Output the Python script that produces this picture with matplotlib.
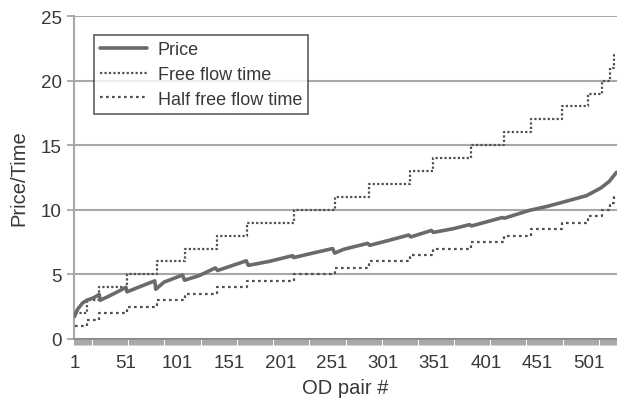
import numpy as np
import matplotlib
matplotlib.use("Agg")
import matplotlib.pyplot as plt

plt.rcParams['font.family'] = ['Liberation Sans', 'DejaVu Sans']

# ---------------- data ----------------
n_pairs = 528
tick_labels = ["1", "51", "101", "151", "201", "251", "301", "351", "401", "451", "501"]
tick_positions = [1, 51, 101, 151, 201, 251, 301, 351, 401, 451, 501]

# Free flow time: step levels and the first OD pair index of each level
ff_start = [1, 13, 25, 52, 81, 108, 140, 169, 214, 254, 287, 327, 350, 387,
            419, 445, 475, 500, 514, 522, 526]
ff_level = [2, 3, 4, 5, 6, 7, 8, 9, 10, 11, 12, 13, 14, 15,
            16, 17, 18, 19, 20, 21, 22]

# Half free flow time: same breakpoints
hf_start = ff_start
hf_level = [1, 1.5, 2, 2.5, 3, 3.5, 4, 4.5, 5, 5.5, 6, 6.5, 7, 7.5,
            8, 8.5, 9, 9.5, 10, 10.5, 11]

# Price: vertices (index, value)
price_idx = [1, 4, 9, 13, 20, 25, 26, 34, 44, 51, 52, 63, 79, 80, 88, 106, 108,
             122, 138, 140, 168, 170, 190, 213, 214, 230, 252, 254, 263, 286, 288,
             305, 326, 328, 348, 350, 370, 385, 387, 417, 419, 443, 460, 474,
             490, 499, 513, 521, 528]
price_val = [1.75, 2.3, 2.8, 3.0, 3.2, 3.45, 3.0, 3.3, 3.7, 4.0, 3.65, 4.0, 4.5, 3.85,
             4.4, 4.95, 4.55, 4.9, 5.5, 5.3, 6.05, 5.7, 6.0, 6.45, 6.3, 6.6, 7.0, 6.65,
             6.95, 7.4, 7.25, 7.6, 8.05, 7.9, 8.4, 8.25, 8.55, 8.85, 8.75, 9.4, 9.35,
             9.95, 10.25, 10.55, 10.9, 11.1, 11.7, 12.2, 12.9]

# ---------------- figure ----------------
fig = plt.figure(figsize=(6.17, 4.06), dpi=100)
ax = fig.add_axes([74/617, 1 - 340/406, 1 - 74/617, (340 - 17)/406])

text_col = '#383838'
grid_col = '#a8a8a8'

ax.set_ylim(0, 25)
ax.set_xlim(0.5, n_pairs + 0.5)
ax.set_yticks([0, 5, 10, 15, 20, 25])
ax.yaxis.grid(True, color=grid_col, linewidth=1.5)
ax.set_axisbelow(True)

ax.plot(price_idx, price_val, color='#6a6a6a', linewidth=2.6,
        solid_joinstyle='round', solid_capstyle='round', label='Price', zorder=4)

ff_x = ff_start + [n_pairs + 0.5]
ff_y = ff_level + [ff_level[-1]]
ax.step(ff_x, ff_y, where='post', color='#505050', linewidth=1.6,
        linestyle=(0, (1, 1)), label='Free flow time', zorder=3)

hf_x = hf_start + [n_pairs + 0.5]
hf_y = hf_level + [hf_level[-1]]
ax.step(hf_x, hf_y, where='post', color='#505050', linewidth=1.6,
        linestyle=(0, (1.2, 1.5)), label='Half free flow time', zorder=3)

for s in ['top', 'right']:
    ax.spines[s].set_visible(False)
ax.spines['left'].set_color(grid_col)
ax.spines['left'].set_linewidth(1.5)
ax.spines['bottom'].set_color('#8a8a8a')
ax.spines['bottom'].set_linewidth(1.3)

ax.set_xticks(tick_positions)
ax.set_xticklabels(tick_labels)
ax.set_xticks(np.arange(0.5, n_pairs + 1, 1), minor=True)
ax.tick_params(axis='x', which='major', length=0, pad=11, labelsize=13.5,
               labelcolor=text_col)
ax.tick_params(axis='x', which='minor', length=4.5, width=0.6, color='#999999')
ax.tick_params(axis='y', length=5, width=1.3, color=grid_col, pad=4,
               labelsize=13.5, labelcolor=text_col)

ax.set_xlabel('OD pair #', fontsize=14.5, color=text_col, labelpad=5)
ax.set_ylabel('Price/Time', fontsize=14.5, color=text_col, labelpad=9)

leg = ax.legend(loc='upper left', bbox_to_anchor=(0.036, 0.941), fontsize=13,
                frameon=True, fancybox=False, handlelength=2.6, borderpad=0.35,
                labelspacing=0.42, handletextpad=0.6, borderaxespad=0)
leg.get_frame().set_edgecolor('#333333')
leg.get_frame().set_linewidth(1.2)
for t in leg.get_texts():
    t.set_color(text_col)

fig.savefig('out.png', dpi=100)
